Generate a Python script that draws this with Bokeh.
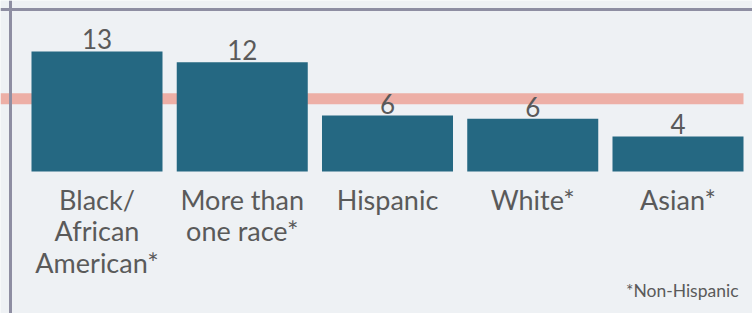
from bokeh.plotting import figure
from bokeh.models import Range1d, Span, Label, ColumnDataSource
from bokeh.embed import file_html
from bokeh.resources import INLINE
from bokeh.core.properties import value

# ---- data ----
categories = ["Black/\nAfrican\nAmerican*", "More than\none race*", "Hispanic", "White*", "Asian*"]
values = [13.2, 12.0, 6.15, 5.8, 3.85]
value_labels = ["13", "12", "6", "6", "4"]
reference_value = 8.0
footnote = "*Non-Hispanic"

# ---- layout constants ----
W, H = 752, 313
PX_PER_X = 145.25
PX_PER_Y = 9.1
BAR_W = 0.902
ZERO_PX = 171          # distance of y=0 from the top of the frame
FIRST_CENTER_PX = 96.5

x_start = 0.5 - FIRST_CENTER_PX / PX_PER_X
x_end = x_start + W / PX_PER_X
y_end = ZERO_PX / PX_PER_Y
y_start = -(H - ZERO_PX) / PX_PER_Y

BG = "#eef1f4"
BAR = "#256882"
TXT = "#5a5a5a"
REF = "#edafa6"
BORDER = "#8e8ea2"
FONT = "Lato"

positions = [i + 0.5 for i in range(len(categories))]
src = ColumnDataSource(dict(x=positions, top=values, lab=value_labels, cat=categories,
                            zero=[0] * len(categories)))

p = figure(width=W, height=H, output_backend="svg", toolbar_location=None,
           x_range=Range1d(x_start, x_end), y_range=Range1d(y_start, y_end),
           min_border=0, background_fill_color=BG, border_fill_color=BG)
p.axis.visible = False
p.grid.visible = False
p.outline_line_color = None

# reference line (behind bars)
p.segment(x0=[x_start], x1=[positions[-1] + BAR_W / 2], y0=[reference_value], y1=[reference_value],
          line_color=REF, line_width=11)

p.vbar(x="x", top="top", bottom=0, width=BAR_W, source=src, fill_color=BAR, line_color=None)

p.text(x="x", y="top", text="lab", source=src, text_align="center", text_baseline="alphabetic",
       y_offset=-12, text_font=value(FONT), text_font_size="26px", text_color=TXT)

p.text(x="x", y="zero", text="cat", source=src, text_align="center", text_baseline="top",
       y_offset=11, text_line_height=0.96, text_font=value(FONT), text_font_size="27px",
       text_color=TXT)

p.add_layout(Label(x=W - 14, y=23, x_units="screen", y_units="screen", text=footnote,
                   text_align="right", text_baseline="alphabetic", text_font=FONT,
                   text_font_size="17.5px", text_color=TXT))

# frame border (left and top)
p.add_layout(Span(location=x_start + 10 / PX_PER_X, dimension="height", line_color=BORDER, line_width=3))
p.add_layout(Span(location=y_end - 9 / PX_PER_Y, dimension="width", line_color=BORDER, line_width=3))

open("out.html", "w").write(file_html(p, INLINE))
